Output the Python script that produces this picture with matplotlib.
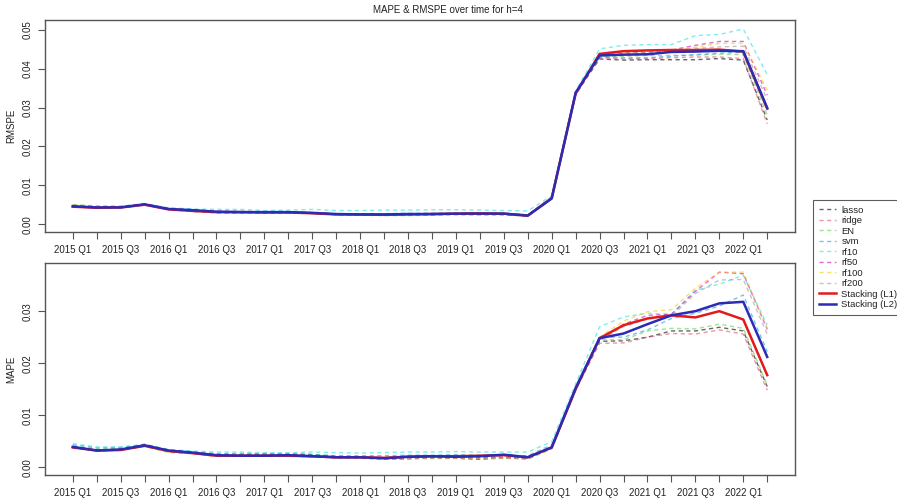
import matplotlib
matplotlib.use("Agg")
import matplotlib.pyplot as plt
from matplotlib.lines import Line2D

plt.rcParams['font.family'] = ['Liberation Sans', 'DejaVu Sans']

# Quarters 2015 Q1 .. 2022 Q2
quarters = [f"{y} Q{q}" for y in range(2015, 2023) for q in range(1, 5)][:30]

models = ["lasso", "ridge", "EN", "svm", "rf10", "rf50", "rf100", "rf200",
          "Stacking (L1)", "Stacking (L2)"]

# RMSPE per model
rmspe_lasso = [0.0047,0.0044,0.0044,0.0050,0.0040,0.0037,0.0032,0.0031,0.0030,0.0030,0.0029,0.0026,0.0024,0.0024,0.0024,0.0025,0.0026,0.0026,0.0025,0.0022,0.0068,0.0335,0.0425,0.0422,0.0423,0.0423,0.0423,0.0426,0.0422,0.0268]
rmspe_ridge = [0.0046,0.0043,0.0044,0.0051,0.0039,0.0035,0.0030,0.0030,0.0029,0.0029,0.0028,0.0025,0.0023,0.0023,0.0024,0.0025,0.0026,0.0027,0.0026,0.0021,0.0067,0.0332,0.0428,0.0425,0.0426,0.0428,0.0430,0.0430,0.0426,0.0258]
rmspe_en = [0.0050,0.0047,0.0046,0.0052,0.0040,0.0036,0.0031,0.0031,0.0030,0.0030,0.0029,0.0025,0.0023,0.0022,0.0022,0.0023,0.0024,0.0023,0.0024,0.0021,0.0068,0.0340,0.0430,0.0432,0.0434,0.0434,0.0435,0.0437,0.0436,0.0280]
rmspe_svm = [0.0048,0.0045,0.0044,0.0050,0.0041,0.0038,0.0034,0.0033,0.0032,0.0032,0.0030,0.0027,0.0027,0.0027,0.0028,0.0028,0.0028,0.0028,0.0028,0.0024,0.0070,0.0340,0.0430,0.0428,0.0428,0.0432,0.0436,0.0440,0.0442,0.0300]
rmspe_rf10 = [0.0049,0.0046,0.0046,0.0052,0.0042,0.0039,0.0038,0.0038,0.0035,0.0036,0.0038,0.0035,0.0035,0.0036,0.0036,0.0037,0.0037,0.0036,0.0035,0.0034,0.0073,0.0343,0.0451,0.0460,0.0462,0.0462,0.0485,0.0488,0.0502,0.0385]
rmspe_rf50 = [0.0048,0.0044,0.0045,0.0053,0.0038,0.0033,0.0029,0.0029,0.0029,0.0029,0.0028,0.0025,0.0024,0.0024,0.0025,0.0026,0.0027,0.0027,0.0026,0.0021,0.0066,0.0338,0.0432,0.0440,0.0442,0.0448,0.0460,0.0470,0.0470,0.0332]
rmspe_rf100 = [0.0050,0.0045,0.0045,0.0051,0.0037,0.0033,0.0030,0.0030,0.0030,0.0029,0.0028,0.0025,0.0024,0.0023,0.0023,0.0024,0.0025,0.0025,0.0024,0.0020,0.0065,0.0338,0.0437,0.0442,0.0444,0.0447,0.0455,0.0465,0.0465,0.0345]
rmspe_rf200 = [0.0049,0.0045,0.0045,0.0052,0.0038,0.0033,0.0029,0.0029,0.0029,0.0028,0.0028,0.0024,0.0023,0.0023,0.0023,0.0024,0.0025,0.0025,0.0024,0.0021,0.0066,0.0338,0.0433,0.0440,0.0441,0.0444,0.0452,0.0456,0.0458,0.0320]
rmspe_l1 = [0.0045,0.0042,0.0043,0.0050,0.0038,0.0034,0.0031,0.0031,0.0030,0.0030,0.0028,0.0025,0.0025,0.0024,0.0025,0.0026,0.0027,0.0028,0.0027,0.0022,0.0067,0.0336,0.0438,0.0445,0.0447,0.0448,0.0448,0.0449,0.0444,0.0297]
rmspe_l2 = [0.0046,0.0043,0.0043,0.0051,0.0039,0.0036,0.0032,0.0031,0.0031,0.0031,0.0029,0.0026,0.0025,0.0025,0.0026,0.0026,0.0027,0.0027,0.0027,0.0022,0.0066,0.0338,0.0434,0.0436,0.0437,0.0443,0.0444,0.0446,0.0445,0.0299]

# MAPE per model
mape_lasso = [0.0039,0.0033,0.0034,0.0043,0.0033,0.0028,0.0024,0.0024,0.0025,0.0025,0.0024,0.0020,0.0019,0.0016,0.0016,0.0018,0.0017,0.0015,0.0018,0.0017,0.0037,0.0150,0.0242,0.0243,0.0250,0.0262,0.0262,0.0269,0.0262,0.0155]
mape_ridge = [0.0038,0.0033,0.0035,0.0044,0.0033,0.0028,0.0023,0.0023,0.0024,0.0024,0.0023,0.0019,0.0018,0.0015,0.0017,0.0019,0.0018,0.0018,0.0020,0.0017,0.0038,0.0148,0.0238,0.0239,0.0250,0.0257,0.0256,0.0264,0.0256,0.0148]
mape_en = [0.0040,0.0035,0.0036,0.0044,0.0032,0.0029,0.0025,0.0025,0.0026,0.0026,0.0025,0.0021,0.0020,0.0018,0.0019,0.0019,0.0019,0.0018,0.0018,0.0017,0.0038,0.0150,0.0245,0.0245,0.0262,0.0267,0.0266,0.0275,0.0267,0.0158]
mape_svm = [0.0043,0.0037,0.0038,0.0043,0.0033,0.0030,0.0026,0.0026,0.0025,0.0025,0.0024,0.0022,0.0022,0.0022,0.0023,0.0023,0.0024,0.0023,0.0023,0.0022,0.0043,0.0155,0.0250,0.0250,0.0264,0.0286,0.0296,0.0310,0.0331,0.0222]
mape_rf10 = [0.0045,0.0039,0.0039,0.0044,0.0034,0.0031,0.0029,0.0029,0.0028,0.0028,0.0029,0.0028,0.0027,0.0028,0.0029,0.0029,0.0030,0.0029,0.0029,0.0029,0.0049,0.0160,0.0270,0.0289,0.0296,0.0294,0.0340,0.0352,0.0369,0.0273]
mape_rf50 = [0.0037,0.0032,0.0034,0.0043,0.0031,0.0027,0.0022,0.0022,0.0022,0.0022,0.0021,0.0019,0.0018,0.0017,0.0018,0.0019,0.0018,0.0018,0.0018,0.0016,0.0036,0.0150,0.0245,0.0275,0.0292,0.0294,0.0338,0.0375,0.0372,0.0265]
mape_rf100 = [0.0036,0.0031,0.0033,0.0040,0.0028,0.0026,0.0021,0.0021,0.0021,0.0021,0.0020,0.0018,0.0017,0.0016,0.0016,0.0016,0.0017,0.0016,0.0017,0.0015,0.0035,0.0148,0.0250,0.0281,0.0299,0.0303,0.0344,0.0375,0.0375,0.0267]
mape_rf200 = [0.0037,0.0031,0.0033,0.0041,0.0029,0.0026,0.0021,0.0021,0.0021,0.0021,0.0020,0.0018,0.0017,0.0016,0.0017,0.0017,0.0018,0.0017,0.0018,0.0016,0.0036,0.0150,0.0244,0.0270,0.0285,0.0290,0.0334,0.0360,0.0361,0.0256]
mape_l1 = [0.0038,0.0032,0.0033,0.0041,0.0031,0.0027,0.0022,0.0022,0.0022,0.0022,0.0021,0.0019,0.0019,0.0018,0.0020,0.0021,0.0021,0.0022,0.0023,0.0019,0.0038,0.0150,0.0248,0.0273,0.0286,0.0292,0.0288,0.0300,0.0284,0.0177]
mape_l2 = [0.0039,0.0032,0.0034,0.0042,0.0032,0.0028,0.0023,0.0022,0.0022,0.0023,0.0021,0.0019,0.0019,0.0017,0.0020,0.0021,0.0020,0.0021,0.0024,0.0019,0.0038,0.0152,0.0248,0.0257,0.0275,0.0292,0.0300,0.0315,0.0318,0.0212]

rmspe = [rmspe_lasso, rmspe_ridge, rmspe_en, rmspe_svm, rmspe_rf10, rmspe_rf50,
         rmspe_rf100, rmspe_rf200, rmspe_l1, rmspe_l2]
mape = [mape_lasso, mape_ridge, mape_en, mape_svm, mape_rf10, mape_rf50,
        mape_rf100, mape_rf200, mape_l1, mape_l2]

colors = ["#000000", "#DF536B", "#61D04F", "#2297E6", "#28E2E5", "#CD0BBC",
          "#F5C710", "#9E9E9E", "#E31A1C", "#2B2BB5"]
alphas = [0.6] * 8 + [1, 1]
widths = [1.0] * 8 + [1.8, 1.8]
dashed = [True] * 8 + [False, False]

x = list(range(len(quarters)))
fig = plt.figure(figsize=(8.97, 4.98), dpi=100)
ax_top = fig.add_axes([45/897, 1 - 232/498, 750/897, 212/498])
ax_bot = fig.add_axes([45/897, 1 - 475/498, 750/897, 211.7/498])

frame_col = "#555555"
txt_col = "#222222"
fs = 7


def draw(ax, data, ylabel, yticks, ymax):
    for vals, c, a, w, d in zip(data, colors, alphas, widths, dashed):
        ls = (0, (3, 2.5)) if d else "-"
        ax.plot(x, vals, color=c, alpha=a, lw=w, linestyle=ls)
    n = len(x) - 1
    ax.set_xlim(-0.04 * n, n * 1.04)
    ax.set_ylim(-0.04 * ymax, ymax * 1.04)
    ax.set_xticks(x)
    ax.set_xticklabels([q if i % 2 == 0 else "" for i, q in enumerate(quarters)],
                       fontsize=fs, color=txt_col)
    ax.set_yticks(yticks)
    ax.set_yticklabels([f"{t:.2f}" for t in yticks], rotation=90, va="center",
                       fontsize=fs, color=txt_col)
    ax.tick_params(axis="both", direction="out", length=5, width=0.8,
                   color=frame_col, pad=4)
    for s in ax.spines.values():
        s.set_color(frame_col)
        s.set_linewidth(1.0)
    ax.set_ylabel(ylabel, fontsize=fs, color=txt_col)
    ax.yaxis.set_label_coords(-0.038, 0.5)


draw(ax_top, rmspe, "RMSPE", [0.00, 0.01, 0.02, 0.03, 0.04, 0.05], 0.0505)
draw(ax_bot, mape, "MAPE", [0.00, 0.01, 0.02, 0.03], 0.0377)

fig.text(448/897, 1 - 10/498, "MAPE & RMSPE over time for h=4", ha="center",
         va="center", fontsize=fs, color=txt_col)

handles = []
for c, a, w, d in zip(colors, alphas, widths, dashed):
    ls = (0, (3, 2.5)) if d else "-"
    handles.append(Line2D([0], [0], color=c, alpha=a, lw=w, linestyle=ls))
leg = fig.legend(handles, models, loc="upper left",
                 bbox_to_anchor=(813/897, 1 - 200/498), fontsize=6.8,
                 frameon=True, fancybox=False, edgecolor="#333333",
                 handlelength=1.8, handletextpad=0.6, labelspacing=0.16,
                 borderpad=0.6, borderaxespad=0)
leg.get_frame().set_linewidth(0.8)
for t in leg.get_texts():
    t.set_color(txt_col)

fig.savefig("out.png", dpi=100)
